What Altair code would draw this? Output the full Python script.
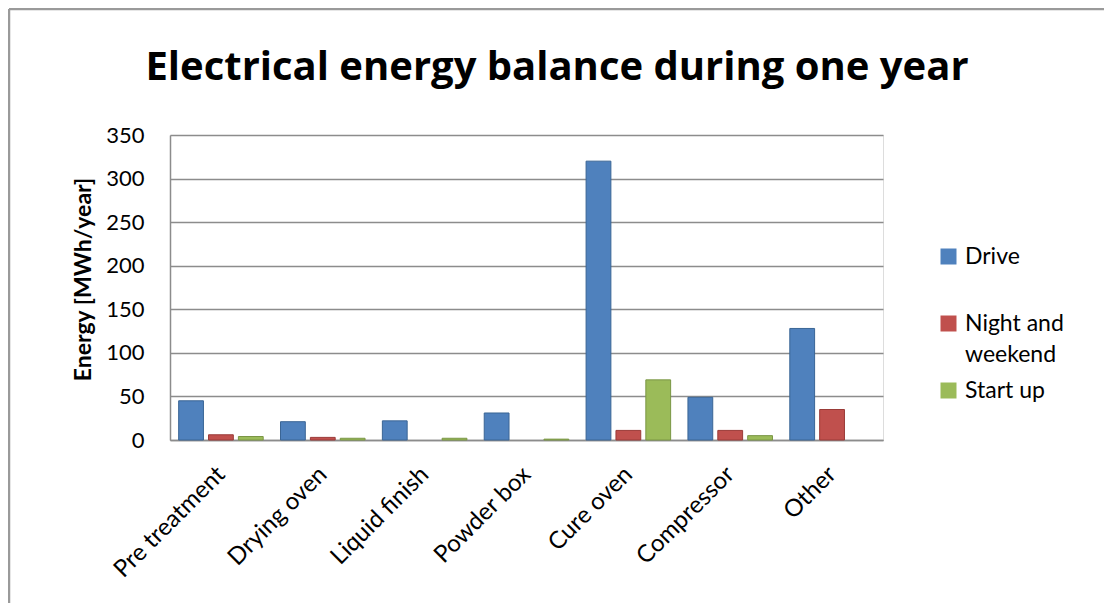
import altair as alt
import pandas as pd

title_text = "Electrical energy balance during one year"
categories = ["Pre treatment", "Drying oven", "Liquid finish", "Powder box",
              "Cure oven", "Compressor", "Other"]
series = ["Drive", "Night and weekend", "Start up"]
drive = [45, 21, 22, 31, 320, 49, 128]
night = [6, 3, 0, 0, 11, 11, 35]
startup = [4, 2, 2, 1, 69, 5, 0]
colors = ["#4F81BD", "#C0504D", "#9BBB59"]
strokes = ["#3A6595", "#9A3B38", "#7A9645"]

rows = []
for i, c in enumerate(categories):
    for s, vals in zip(series, [drive, night, startup]):
        rows.append({"category": c, "series": s, "value": vals[i]})
df = pd.DataFrame(rows)

FONT = "Lato"
W, H = 713, 305

bars = alt.Chart(df).transform_filter("datum.value > 0").mark_bar(strokeWidth=1).encode(
    x=alt.X("category:N", sort=categories,
            scale=alt.Scale(paddingInner=0.17, paddingOuter=0.085),
            axis=alt.Axis(title=None, labelAngle=-45, labelFontSize=24,
                          labelFont=FONT, labelColor="#000", domainColor="#8c8c8c",
                          domainWidth=1.5, ticks=False, labelPadding=22,
                          labelOffset=-8, labelAlign="right", labelBaseline="top")),
    xOffset=alt.XOffset("series:N", sort=series,
                        scale=alt.Scale(domain=series, paddingInner=0.17, paddingOuter=0)),
    y=alt.Y("value:Q", scale=alt.Scale(domain=[0, 350]),
            axis=alt.Axis(title="Energy [MWh/year]", titleFont=FONT,
                          titleFontSize=23, titleFontWeight="bold",
                          titleColor="#000", titlePadding=10, titleY=144,
                          values=[0, 50, 100, 150, 200, 250, 300, 350],
                          labelFontSize=22, labelFont=FONT, labelColor="#000",
                          labelPadding=26, ticks=False, domainColor="#8c8c8c",
                          domainWidth=1.5, gridColor="#8c8c8c", gridWidth=1.5)),
    color=alt.Color("series:N", sort=series,
                    scale=alt.Scale(domain=series, range=colors),
                    legend=alt.Legend(
                        title=None, orient="none", legendX=767, legendY=110,
                        symbolType="square", symbolSize=256, symbolStrokeWidth=0,
                        labelFont=FONT, labelFontSize=23, labelColor="#000",
                        rowPadding=12, labelOffset=5, labelBaseline="middle",
                        labelExpr="datum.label == 'Night and weekend' ? ['Night and', 'weekend'] : [datum.label, '']")),
    stroke=alt.Stroke("series:N", sort=series,
                      scale=alt.Scale(domain=series, range=strokes), legend=None),
)

title = alt.Chart(pd.DataFrame({"t": [title_text]})).mark_text(
    font="Open Sans", fontSize=40, fontWeight="bold", color="#000",
    align="center", baseline="alphabetic").encode(
    text="t:N", x=alt.value(387), y=alt.value(-55))

border = alt.Chart(pd.DataFrame({"a": [0]})).mark_rule(
    color="#9a9a9a", strokeWidth=2.5).encode(
    x=alt.value(-161), x2=alt.value(W + 240), y=alt.value(-126))
border2 = alt.Chart(pd.DataFrame({"a": [0]})).mark_rule(
    color="#9a9a9a", strokeWidth=2.5).encode(
    x=alt.value(-161), y=alt.value(-126), y2=alt.value(H + 200))

chart = alt.layer(bars, title, border, border2).properties(
    width=W, height=H,
    padding={"left": 162, "top": 127, "right": 221, "bottom": 163},
    autosize=alt.AutoSizeParams(type="none"),
).configure_view(stroke=None).configure(
    background="white", style={"guide-label": {"lineHeight": 31}})

chart.save("out.html", embed_options={"renderer": "svg", "actions": False})
